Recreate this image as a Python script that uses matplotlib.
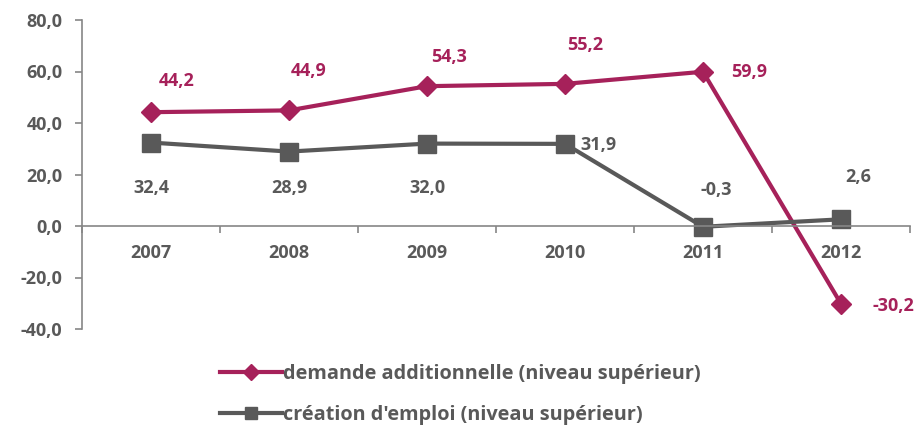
import numpy as np
import matplotlib
matplotlib.use("Agg")
import matplotlib.pyplot as plt
from matplotlib.ticker import FixedLocator, FuncFormatter

plt.rcParams['font.family'] = ['Open Sans', 'DejaVu Sans']
plt.rcParams['font.weight'] = 'bold'

years = ['2007', '2008', '2009', '2010', '2011', '2012']
demande = [44.2, 44.9, 54.3, 55.2, 59.9, -30.2]
creation = [32.4, 28.9, 32.0, 31.9, -0.3, 2.6]
label_demande = "demande additionnelle (niveau supérieur)"
label_creation = "création d'emploi (niveau supérieur)"

# label offsets in pixels (dx, dy)
off_demande = [(26, 31), (20, 39), (22, 29), (20, 39), (46, 0), (52, -2)]
off_creation = [(0, -45), (0, -36), (0, -44), (33, -1), (13, 37), (17, 42)]

c_dem = '#A6215A'
c_cre = '#595959'
c_axis = '#868686'
txt = '#595959'
fs = 13

fig = plt.figure(figsize=(9.17, 4.28), dpi=100)
ax = fig.add_axes([82 / 917, 1 - 329 / 428, (910 - 82) / 917, (329 - 20) / 428])

x = np.arange(len(years))
ax.plot(x, demande, color=c_dem, lw=3, marker='D', ms=10.5, label=label_demande)
ax.plot(x, creation, color=c_cre, lw=3, marker='s', ms=13.5, label=label_creation)

for i, v in enumerate(demande):
    ax.annotate(f"{v:.1f}".replace('.', ','), (x[i], v), xytext=off_demande[i],
                textcoords='offset pixels', ha='center', va='center',
                color=c_dem, fontsize=fs, fontweight='bold')
for i, v in enumerate(creation):
    ax.annotate(f"{v:.1f}".replace('.', ','), (x[i], v), xytext=off_creation[i],
                textcoords='offset pixels', ha='center', va='center',
                color=c_cre, fontsize=fs, fontweight='bold')

ax.set_xlim(-0.5, len(years) - 0.5)
ax.set_ylim(-40, 80)
ax.set_yticks(np.arange(-40, 81, 20))
ax.yaxis.set_major_formatter(FuncFormatter(lambda v, p: f"{v:.1f}".replace('.', ',')))

ax.spines['top'].set_visible(False)
ax.spines['right'].set_visible(False)
ax.spines['bottom'].set_position(('data', 0))
for s in ('left', 'bottom'):
    ax.spines[s].set_color(c_axis)
    ax.spines[s].set_linewidth(1.2)

ax.set_xticks(x)
ax.set_xticklabels(years)
ax.xaxis.set_minor_locator(FixedLocator(np.arange(-0.5, len(years), 1)))
ax.tick_params(axis='x', which='major', length=0, pad=13, labelsize=fs, labelcolor=txt)
ax.tick_params(axis='x', which='minor', length=5, color=c_axis, width=1.2, direction='out')
ax.tick_params(axis='y', length=5, color=c_axis, width=1.2, pad=9, labelsize=fs, labelcolor=txt)
for lab in ax.get_xticklabels() + ax.get_yticklabels():
    lab.set_fontweight('bold')

leg = fig.legend(loc='upper left', bbox_to_anchor=(220 / 917, 1 - 364 / 428), frameon=False,
                 fontsize=14.3, handlelength=3.1, handletextpad=0.05, labelspacing=1.05,
                 borderaxespad=0, borderpad=0)
for t in leg.get_texts():
    t.set_color(txt)
    t.set_fontweight('bold')
for h in leg.legend_handles:
    h.set_markersize(8)

fig.savefig('out.png', dpi=100)
